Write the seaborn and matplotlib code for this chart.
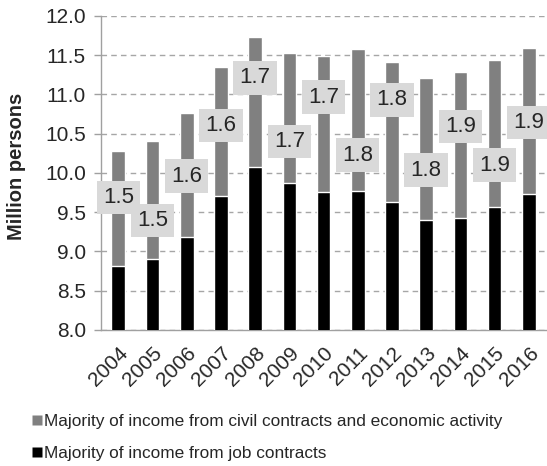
import matplotlib
matplotlib.use("Agg")
import matplotlib.pyplot as plt
import seaborn as sns
import pandas as pd
import numpy as np

years = ["2004", "2005", "2006", "2007", "2008", "2009", "2010",
         "2011", "2012", "2013", "2014", "2015", "2016"]
job_contracts = [8.82, 8.90, 9.18, 9.71, 10.07, 9.87, 9.76,
                 9.77, 9.63, 9.40, 9.43, 9.56, 9.73]
civil_contracts = [1.46, 1.51, 1.58, 1.64, 1.66, 1.66, 1.73,
                   1.81, 1.78, 1.81, 1.86, 1.88, 1.86]
y_ticks = [8.0, 8.5, 9.0, 9.5, 10.0, 10.5, 11.0, 11.5, 12.0]

# vertical nudges of the value boxes, relative to the middle of the grey segment
label_shift = [0.14, -0.26, -0.01, 0.07, 0.31, -0.30, 0.34,
               -0.45, 0.41, -0.27, 0.23, -0.40, -0.02]

df = pd.DataFrame({"year": years, "job": job_contracts, "civil": civil_contracts})
df["total"] = df["job"] + df["civil"]

sns.set_theme(style="white")
plt.rcParams["font.family"] = ["Liberation Sans", "DejaVu Sans"]

fig = plt.figure(figsize=(5.47, 4.66), dpi=100)
ax = fig.add_axes([0.185, 0.292, 0.813, 0.674])

GREY = "#808080"
sns.barplot(data=df, x="year", y="total", color=GREY, width=0.4,
            saturation=1, ax=ax, zorder=2)
sns.barplot(data=df, x="year", y="job", color="black", width=0.4,
            saturation=1, ax=ax, zorder=3)

ax.set_ylim(8.0, 12.0)
ax.set_xlim(-0.5, len(years) - 0.5)
ax.set_yticks(y_ticks)
ax.set_yticklabels([f"{t:.1f}" for t in y_ticks], fontsize=15)
ax.yaxis.grid(True, linestyle=(0, (4, 3)), color="#a6a6a6", linewidth=1.0, zorder=0)
ax.set_axisbelow(True)

ax.set_xticks(range(len(years)))
ax.set_xticklabels(years, rotation=45, ha="right", rotation_mode="anchor", fontsize=15)
ax.set_xticks(np.arange(-0.5, len(years), 1.0), minor=True)
ax.tick_params(axis="x", which="major", length=0, pad=10)
ax.tick_params(axis="x", which="minor", length=5, color="#a0a0a0", width=1, direction="out")
ax.tick_params(axis="y", length=5, color="#a0a0a0", width=1, direction="out", left=True, pad=6)

for s in ["top", "right"]:
    ax.spines[s].set_visible(False)
for s in ["left", "bottom"]:
    ax.spines[s].set_color("#a0a0a0")
    ax.spines[s].set_linewidth(1.0)

ax.set_xlabel("")
ax.set_ylabel("Million persons", fontsize=14.5, fontweight="bold")
ax.yaxis.set_label_coords(-0.17, 0.52)

# value boxes for the civil-contract segment
for i, (j, c) in enumerate(zip(job_contracts, civil_contracts)):
    yc = j + c / 2 + label_shift[i]
    ax.text(i, yc, f"{c:.1f}", ha="center", va="center", fontsize=16, zorder=5,
            bbox=dict(boxstyle="square,pad=0.28", facecolor="#d9d9d9", edgecolor="none"))

handles = [plt.Line2D([], [], marker="s", linestyle="none", markersize=7,
                      markerfacecolor=GREY, markeredgecolor="none"),
           plt.Line2D([], [], marker="s", linestyle="none", markersize=7,
                      markerfacecolor="black", markeredgecolor="none")]
fig.legend(handles,
           ["Majority of income from civil contracts and economic activity",
            "Majority of income from job contracts"],
           loc="lower left", bbox_to_anchor=(0.045, -0.005), frameon=False,
           fontsize=12.4, handlelength=0.6, handletextpad=0.15, labelspacing=1.0,
           borderaxespad=0)

fig.savefig("out.png", dpi=100)
